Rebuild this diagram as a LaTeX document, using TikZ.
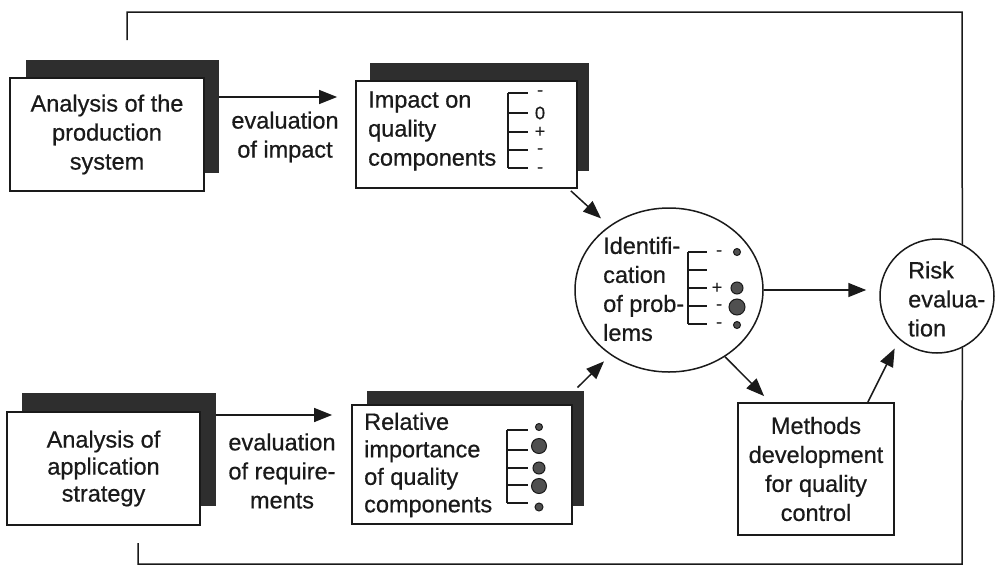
\documentclass[tikz,border=0pt]{standalone}
\usepackage{fontspec}
\setmainfont{Liberation Sans}[FakeBold=0.6]
\usetikzlibrary{arrows.meta,shapes.geometric,calc}
\definecolor{ink}{HTML}{1A1A1A}
\definecolor{shade}{HTML}{2E2E2E}
\definecolor{dotfill}{HTML}{505050}
\begin{document}
\begin{tikzpicture}[x=1pt,y=-1pt,
  every node/.style={text=ink, font=\fontsize{23.5}{29}\selectfont, inner sep=0pt},
  card/.style={draw=ink, line width=1.8pt, fill=white},
  backcard/.style={fill=shade, draw=shade, line width=1pt},
  ring/.style={draw=ink, line width=1.5pt, fill=white},
  wire/.style={draw=ink, line width=1.5pt},
  arr/.style={wire, -{Triangle[length=18pt,width=14pt]}, fill=ink},
  brk/.style={draw=ink, line width=1.3pt},
  sym/.style={font=\fontsize{18}{18}\selectfont},
  blob/.style={fill=dotfill, draw=ink, line width=1pt}
]
\useasboundingbox (0,0) rectangle (996,568);

% feedback frame end points
\coordinate (fbtop) at (127,40);
\coordinate (fbtr) at (962,12);
\coordinate (fbbr) at (962,564);
\coordinate (fbbot) at (138,543);

% stacked cards (back sheet first)
\node[backcard, minimum width=192pt, minimum height=112pt] (box1s) at (122,116) {};
\node[card, minimum width=194pt, minimum height=113pt, align=center] (box1) at (107,134.5)
  {Analysis of the\\production\\system};

\node[backcard, minimum width=193pt, minimum height=112pt] (box3s) at (118.5,449) {};
\node[card, minimum width=193pt, minimum height=113pt, align=center,
      font=\fontsize{23.5}{27}\selectfont] (box3) at (103.5,468.5)
  {Analysis of\\application\\strategy};

\node[backcard, minimum width=218pt, minimum height=107pt] (box2s) at (479,116.5) {};
\node[card, minimum width=221pt, minimum height=107pt] (box2) at (466.5,134.5) {};
\node[anchor=west, align=left] (box2t) at (368,131) {Impact on\\quality\\components};

\node[backcard, minimum width=216pt, minimum height=114pt] (box4s) at (475,448) {};
\node[card, minimum width=220pt, minimum height=119pt] (box4) at (462,464.5) {};
\node[anchor=west, align=left, font=\fontsize{23.5}{27.5}\selectfont] (box4t) at (364,465)
  {Relative\\importance\\of quality\\components};

% problem identification and risk evaluation
\node[ring, ellipse, minimum width=188pt, minimum height=164pt] (idc) at (669,290) {};
\node[anchor=west, align=left] (idt) at (603,289) {Identifi-\\cation\\of prob-\\lems};

\node[ring, circle, minimum size=114pt] (riskc) at (937,296) {};
\node[anchor=west, align=left] (riskt) at (908,299) {Risk\\evalua-\\tion};

\node[card, minimum width=156pt, minimum height=132pt, align=center] (meth) at (816,469)
  {Methods\\development\\for quality\\control};

% connector labels
\node[align=center] (lab1) at (285,137) {evaluation\\of impact};
\node[align=center] (lab2) at (282,471) {evaluation\\of require-\\ments};

% impact scale
\draw[brk] (508,93) -- (508,168);
\foreach \yy in {93,113,132,150,168} \draw[brk] (508,\yy) -- (528,\yy);
\node[sym] (s1) at (540,93) {-};
\node[sym] (s2) at (540,113) {0};
\node[sym] (s3) at (540,132) {+};
\node[sym] (s4) at (540,151) {-};
\node[sym] (s5) at (540,170) {-};

% importance scale
\draw[brk] (507,430) -- (507,503);
\foreach \yy in {430,450,468,485,503} \draw[brk] (507,\yy) -- (528,\yy);
\filldraw[blob] (539,427) circle (3.5pt);
\filldraw[blob] (539,446) circle (7.5pt);
\filldraw[blob] (539,468) circle (6pt);
\filldraw[blob] (539,486) circle (7.5pt);
\filldraw[blob] (539,507) circle (4pt);

% combined problem scale
\draw[brk] (688,252) -- (688,324);
\foreach \yy in {252,270,288,306,324} \draw[brk] (688,\yy) -- (707,\yy);
\node[sym] (p1) at (719,253) {-};
\node[sym] (p3) at (717,288) {+};
\node[sym] (p4) at (719,307) {-};
\node[sym] (p5) at (719,325) {-};
\filldraw[blob] (737,252) circle (3.5pt);
\filldraw[blob] (737,288) circle (6pt);
\filldraw[blob] (737,307) circle (8pt);
\filldraw[blob] (737,325) circle (3.5pt);

% flow
\draw[arr, shorten >=18pt] ([yshift=19pt]box1s.east) -- ([yshift=19pt]box1s.east -| box2.west);
\draw[arr, shorten >=19pt] ([yshift=34pt]box3s.east) -- ([yshift=34pt]box3s.east -| box4.west);
\draw[arr, shorten >=11pt] ([xshift=-7pt,yshift=-2pt]box2.south east) -- (idc.133);
\draw[arr, shorten >=9pt] ([xshift=-6pt,yshift=3pt]box4s.north east) -- (idc.228);
\draw[arr, shorten >=13pt] (idc.east) -- (idc.east -| riskc.west);
\draw[arr] (idc.-50) -- ($(meth.north west)+(27,-6)$);
\draw[arr, shorten >=10pt] ($(meth.north east)+(-27,0)$) -- (riskc.229);

% feedback loop
\draw[wire] (fbtop) |- (fbtr) -- (riskc.64);
\draw[wire] (riskc.-64) -- (fbbr) -| (fbbot);
\end{tikzpicture}
\end{document}
